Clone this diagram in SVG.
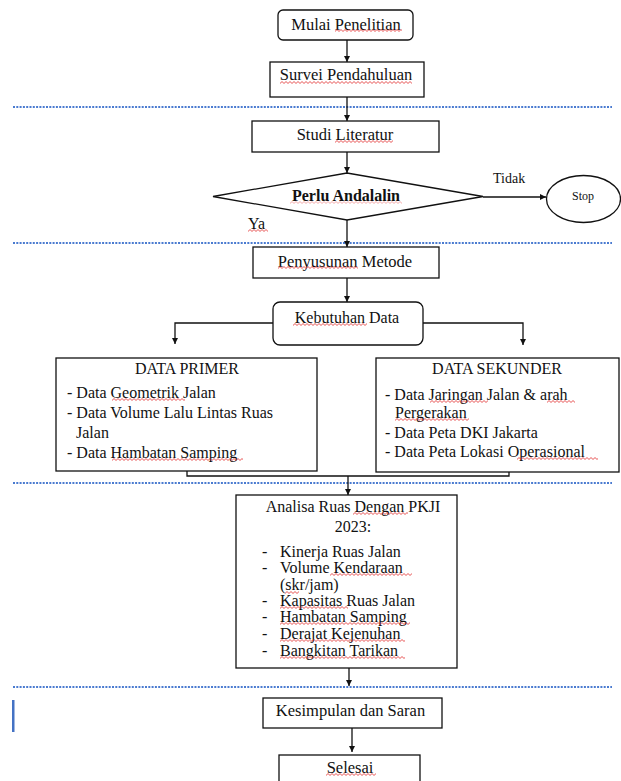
<svg xmlns="http://www.w3.org/2000/svg" width="621" height="781" viewBox="0 0 621 781">
<style>
.box{fill:#fff;stroke:#111;stroke-width:1.3}
.t{font-family:"Liberation Serif","Times New Roman",serif;font-size:16px;fill:#111}
.c{text-anchor:middle}
.b{font-weight:bold}
.dot{stroke:#4a7bd0;stroke-width:2;stroke-dasharray:2 1.3;fill:none}
.con{stroke:#111;stroke-width:1.3;fill:none;marker-end:url(#ah)}
.sq{fill:url(#wave)}
</style>
<defs>
<marker id="ah" viewBox="0 0 6 6" refX="6" refY="3" markerWidth="6" markerHeight="6" markerUnits="userSpaceOnUse" orient="auto">
<path d="M0,0 L6,3 L0,6 z" fill="#111"/>
</marker>
<pattern id="wave" width="4" height="3" patternUnits="userSpaceOnUse">
<path d="M-1,1.5 L0,2.5 L2,0.5 L4,2.5 L5,1.5" stroke="#e02020" stroke-width="0.8" fill="none"/>
</pattern>
</defs>

<g id="separators">
<line class="dot" x1="13" y1="107" x2="612" y2="107"/>
<line class="dot" x1="13" y1="243" x2="612" y2="243"/>
<line class="dot" x1="13" y1="483" x2="612" y2="483"/>
<line class="dot" x1="13" y1="687" x2="612" y2="687"/>
<rect x="12" y="700" width="2.5" height="32" fill="#4472c4"/>
</g>

<g id="connectors">
<path class="con" d="M347,40 V62"/>
<path class="con" d="M347,97 V121"/>
<path class="con" d="M347,152 V173"/>
<path class="con" d="M483,197 H546"/>
<path class="con" d="M347,220 V247"/>
<path class="con" d="M347,278 V302"/>
<path class="con" d="M273,323 H175 V344"/>
<path class="con" d="M423,323 H523 V345"/>
<path class="con" d="M348,476 V495"/>
<path class="con" d="M349,668 V686"/>
<path class="con" d="M352,728 V752"/>
<path d="M187,468 V476 H509 V471" stroke="#111" stroke-width="1.3" fill="none"/>
</g>

<g id="mulai">
<rect class="box" x="278" y="10" width="135" height="30" rx="5"/>
<text class="t c" x="346" y="30" style="font-size:16.5px">Mulai Penelitian</text>
<rect class="sq" transform="translate(335,29)" width="67" height="3"/>
</g>

<g id="survei">
<rect class="box" x="270" y="62" width="154" height="35"/>
<text class="t c" x="346" y="80" style="font-size:16.5px">Survei Pendahuluan</text>
<rect class="sq" transform="translate(280,81)" width="132" height="3"/>
</g>

<g id="studi">
<rect class="box" x="252" y="121" width="187" height="31"/>
<text class="t c" x="345" y="140" style="font-size:16.5px">Studi Literatur</text>
<rect class="sq" transform="translate(335,140)" width="58" height="3"/>
</g>

<g id="andalalin">
<polygon class="box" points="213,196.5 347,173 483,196.5 347,220"/>
<text class="t c b" x="346" y="201">Perlu Andalalin</text>
<rect class="sq" transform="translate(290,201)" width="112" height="3" opacity="0.5"/>
<text class="t" x="493" y="183" style="font-size:14px">Tidak</text>
<text class="t" x="248" y="229">Ya</text>
<rect class="sq" transform="translate(248,229)" width="20" height="3"/>
</g>

<g id="stop">
<ellipse class="box" cx="583.5" cy="199" rx="37" ry="23.5"/>
<text class="t c" x="583" y="200" style="font-size:12px">Stop</text>
</g>

<g id="penyusunan">
<rect class="box" x="253" y="247" width="186" height="31"/>
<text class="t c" x="345" y="267" style="font-size:16.5px">Penyusunan Metode</text>
<rect class="sq" transform="translate(278,266)" width="80" height="3"/>
</g>

<g id="kebutuhan">
<rect class="box" x="273" y="302" width="150" height="43" rx="7"/>
<text class="t c" x="347" y="323">Kebutuhan Data</text>
<rect class="sq" transform="translate(293,323)" width="74" height="3"/>
</g>

<g id="primer">
<rect class="box" x="56" y="358" width="261" height="113"/>
<text class="t c" x="187" y="374">DATA PRIMER</text>
<text class="t" x="67" y="398">- Data Geometrik Jalan</text>
<text class="t" x="67" y="418">- Data Volume Lalu Lintas Ruas</text>
<text class="t" x="76" y="438">Jalan</text>
<text class="t" x="67" y="458">- Data Hambatan Samping</text>
<rect class="sq" transform="translate(112,398)" width="73" height="3"/>
<rect class="sq" transform="translate(112,458)" width="131" height="3"/>
</g>

<g id="sekunder">
<rect class="box" x="376" y="358" width="243" height="114"/>
<text class="t c" x="497" y="374">DATA SEKUNDER</text>
<text class="t" x="385" y="400">- Data Jaringan Jalan &amp; arah</text>
<text class="t" x="395" y="418">Pergerakan</text>
<text class="t" x="385" y="438">- Data Peta DKI Jakarta</text>
<text class="t" x="385" y="457">- Data Peta Lokasi Operasional</text>
<rect class="sq" transform="translate(430,400)" width="58" height="3"/>
<rect class="sq" transform="translate(547,400)" width="28" height="3"/>
<rect class="sq" transform="translate(395,418)" width="74" height="3"/>
<rect class="sq" transform="translate(517,457)" width="81" height="3"/>
</g>

<g id="analisa">
<rect class="box" x="236" y="495" width="221" height="173"/>
<text class="t c" x="353" y="512">Analisa Ruas Dengan PKJI</text>
<text class="t c" x="353" y="532">2023:</text>
<text class="t" x="262" y="557">-</text><text class="t" x="280" y="557">Kinerja Ruas Jalan</text>
<text class="t" x="262" y="573">-</text><text class="t" x="280" y="573">Volume Kendaraan</text>
<text class="t" x="280" y="590">(skr/jam)</text>
<text class="t" x="262" y="606">-</text><text class="t" x="280" y="606">Kapasitas Ruas Jalan</text>
<text class="t" x="262" y="622">-</text><text class="t" x="280" y="622">Hambatan Samping</text>
<text class="t" x="262" y="639">-</text><text class="t" x="280" y="639">Derajat Kejenuhan</text>
<text class="t" x="262" y="656">-</text><text class="t" x="280" y="656">Bangkitan Tarikan</text>
<rect class="sq" transform="translate(353,512)" width="55" height="3"/>
<rect class="sq" transform="translate(330,573)" width="82" height="3"/>
<rect class="sq" transform="translate(285,591)" width="14" height="3"/>
<rect class="sq" transform="translate(280,606)" width="68" height="3"/>
<rect class="sq" transform="translate(280,622)" width="130" height="3"/>
<rect class="sq" transform="translate(280,639)" width="125" height="3"/>
<rect class="sq" transform="translate(280,656)" width="125" height="3"/>
</g>

<g id="kesimpulan">
<rect class="box" x="263" y="698" width="179" height="30"/>
<text class="t c" x="350.5" y="716" style="font-size:16.5px">Kesimpulan dan Saran</text>
</g>

<g id="selesai">
<rect class="box" x="279" y="755" width="141" height="40"/>
<text class="t c" x="350" y="773" style="font-size:16.5px">Selesai</text>
<rect class="sq" transform="translate(326,773)" width="50" height="3"/>
</g>
</svg>
